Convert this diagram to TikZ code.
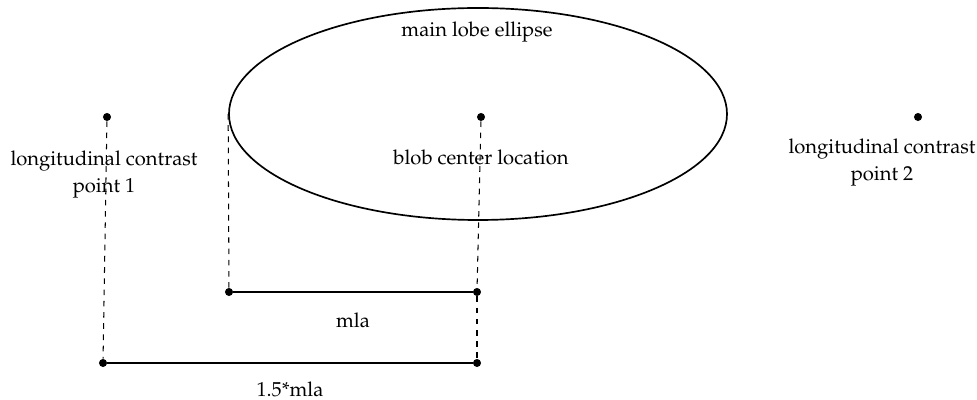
\documentclass[tikz,border=0pt]{standalone}
\usepackage[T1]{fontenc}
\usepackage{mathpazo}
\usepackage{tikz}
\usetikzlibrary{shapes.geometric,positioning}

\begin{document}
\begin{tikzpicture}[
    x=0.535pt, y=-0.535pt,
    font=\fontsize{10.8}{14.4}\selectfont,
    dot/.style={circle, fill=black, inner sep=0pt, minimum size=4.3pt},
    guide/.style={draw=black, dashed, line width=0.55pt},
    span/.style={draw=black, line width=0.9pt},
    lobe/.style={ellipse, draw=black, line width=0.9pt, minimum width=498*0.535pt, minimum height=212*0.535pt, inner sep=0pt},
    lbl/.style={align=center, inner sep=1pt}
]
\useasboundingbox (0,0) rectangle (977,400);

% Main lobe
\node[lobe] (ellipse) at (478, 114) {};
\node[lbl] (lobeText) at (477, 32) {main lobe ellipse};

% Points
\node[dot] (center) at (481, 117) {};
\node[dot] (p1) at (107, 117) {};
\node[dot] (p2) at (918, 117) {};

\node[lbl] (centerText) at (481, 157) {blob center location};
\node[lbl] (p1Text) at (104, 175) {longitudinal contrast\\point 1};
\node[lbl] (p2Text) at (882, 163) {longitudinal contrast\\point 2};

% Measurement bars
\node[dot] (mlaL) at (229, 292) {};
\node[dot] (mlaR) at (477, 292) {};
\node[dot] (longL) at (103, 363) {};
\node[dot] (longR) at (477, 363) {};

\draw[span] (mlaL) -- (mlaR);
\draw[span] (longL) -- (longR);

\node[lbl] (mlaText) at (353, 320) {mla};
\node[lbl] (longText) at (290, 389) {1.5*mla};

% Guides
\draw[guide] (ellipse.west) -- (mlaL);
\draw[guide] (center) -- (mlaR);
\draw[guide] (mlaR) -- (longR);
\draw[guide] (p1) -- (longL);

\end{tikzpicture}
\end{document}
